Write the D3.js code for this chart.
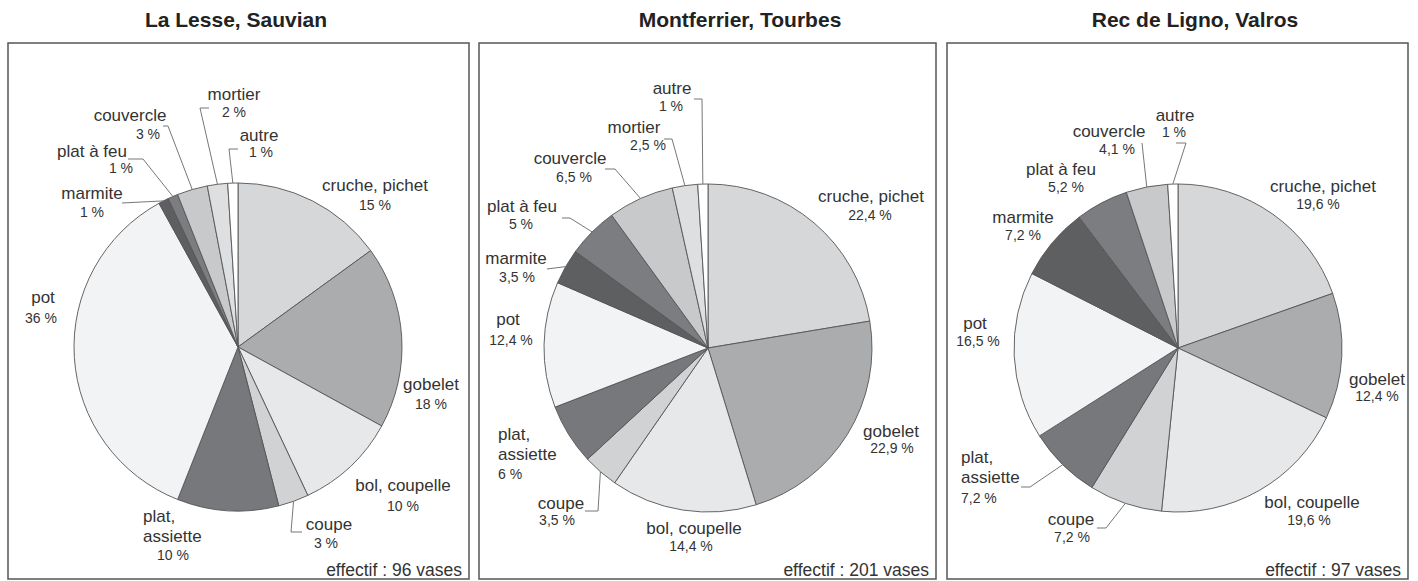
<!DOCTYPE html>
<html>
<head>
<meta charset="utf-8">
<script src="https://cdn.jsdelivr.net/npm/d3@7"></script>
<style>
  body { margin: 0; background: #fff; }
  text { font-family: "Liberation Sans", Arial, sans-serif; fill: #333; }
</style>
</head>
<body>
<script>
// categories, clockwise from 12 o'clock
var categories = ["cruche, pichet", "gobelet", "bol, coupelle", "coupe", "plat, assiette",
  "pot", "marmite", "plat à feu", "couvercle", "mortier", "autre"];

var sites = ["La Lesse, Sauvian", "Montferrier, Tourbes", "Rec de Ligno, Valros"];
var counts = [96, 201, 97];

var lesseValues       = [15, 18, 10, 3, 10, 36, 1, 1, 3, 2, 1];
var montferrierValues = [22.4, 22.9, 14.4, 3.5, 6, 12.4, 3.5, 5, 6.5, 2.5, 1];
var recValues         = [19.6, 12.4, 19.6, 7.2, 7.2, 16.5, 7.2, 5.2, 4.1, 0, 1];

var allValues = [lesseValues, montferrierValues, recValues];

var shades = ["#d6d7d9", "#abacae", "#e7e8ea", "#d1d2d4", "#77787b", "#f2f3f4",
  "#5e5f61", "#7c7d80", "#c8c9cb", "#dedfe1", "#ffffff"];

// layout: boxes, pie centres, titles
var boxes = [[8, 43, 461, 536], [479, 43, 457, 536], [947, 43, 461, 536]];
var centers = [[238, 347], [708, 348], [1178, 348]];
var titleX = [236, 740, 1195];
var radius = 164;

// label placement relative to pie centre: n = name baseline, p = pct baseline,
// a = anchor, l = leader points (from slice edge to ... to end)
var labelLayout = [
  [
    {n: [137, -156], p: [137, -137]},
    {n: [193, 43], p: [193, 62]},
    {n: [165, 144], p: [165, 164]},
    {n: [91, 183], p: [88, 201], l: [[53, 185], [64, 185]]},
    {n: [-95, 175], p: [-81, 213], a: "start"},
    {n: [-195, -44], p: [-197, -24]},
    {n: [-146, -148], p: [-146, -130], l: [[-116, -144]]},
    {n: [-146, -190], p: [-117, -174], l: [[-95, -188], [-110, -188]]},
    {n: [-108, -226], p: [-90, -208], l: [[-70, -221], [-75, -221]]},
    {n: [-4, -247], p: [-4, -230], l: [[-38, -239], [-29, -239]]},
    {n: [21, -206], p: [23, -190], l: [[-9, -198], [0, -198]]}
  ],
  [
    {n: [163, -146], p: [162, -128]},
    {n: [183, 89], p: [184, 105]},
    {n: [-14, 186], p: [-17, 203]},
    {n: [-147, 161], p: [-151, 177], l: [[-110, 163], [-123, 163]]},
    {n: [-210, 92], p: [-210, 131], a: "start"},
    {n: [-200, -23], p: [-197, -3]},
    {n: [-192, -84], p: [-191, -66], l: [[-161, -79]]},
    {n: [-186, -136], p: [-187, -119], l: [[-138, -130], [-146, -130]]},
    {n: [-138, -184], p: [-134, -166], l: [[-93, -179], [-103, -179]]},
    {n: [-74, -215], p: [-60, -198], l: [[-36, -209], [-44, -209]]},
    {n: [-36, -254], p: [-37, -237], l: [[-6, -249], [-14, -249]]}
  ],
  [
    {n: [145, -156], p: [140, -139]},
    {n: [199, 37], p: [199, 53]},
    {n: [134, 160], p: [131, 177]},
    {n: [-107, 177], p: [-106, 194], l: [[-72, 180], [-81, 180]]},
    {n: [-217, 115], p: [-217, 155], a: "start", l: [[-148, 139], [-157, 139]]},
    {n: [-203, -19], p: [-200, -2]},
    {n: [-155, -125], p: [-155, -108]},
    {n: [-117, -173], p: [-112, -156]},
    {n: [-69, -211], p: [-61, -194], l: [[-36, -205]]},
    null,
    {n: [-3, -227], p: [-4, -211], l: [[8, -205], [-2, -205]]}
  ]
];

var svg = d3.select("body").append("svg")
  .attr("width", 1418)
  .attr("height", 581);

var pie = d3.pie().sort(null).value(function(d){ return d; });
var arc = d3.arc().innerRadius(0).outerRadius(radius);

function pctText(v) {
  return String(v).replace(".", ",") + " %";
}

allValues.forEach(function(values, k) {
  var box = boxes[k];

  svg.append("text")
    .attr("x", titleX[k])
    .attr("y", 27)
    .attr("text-anchor", "middle")
    .style("font-size", "21px")
    .style("font-weight", "bold")
    .style("fill", "#222")
    .text(sites[k]);

  svg.append("rect")
    .attr("x", box[0]).attr("y", box[1])
    .attr("width", box[2]).attr("height", box[3])
    .attr("fill", "none")
    .attr("stroke", "#555")
    .attr("stroke-width", 1.5);

  var g = svg.append("g")
    .attr("transform", "translate(" + centers[k][0] + "," + centers[k][1] + ")");

  var arcs = pie(values).filter(function(d){ return d.value > 0; });

  g.selectAll("path.slice")
    .data(arcs)
    .enter()
    .append("path")
    .attr("class", "slice")
    .attr("d", arc)
    .attr("fill", function(d){ return shades[d.index]; })
    .attr("stroke", "#555")
    .attr("stroke-width", 0.9)
    .attr("stroke-linejoin", "round");

  // leader lines
  arcs.forEach(function(d) {
    var lay = labelLayout[k][d.index];
    if (!lay || !lay.l) return;
    var mid = (d.startAngle + d.endAngle) / 2;
    var pts = [[radius * Math.sin(mid), -radius * Math.cos(mid)]].concat(lay.l);
    g.append("path")
      .attr("d", d3.line()(pts))
      .attr("fill", "none")
      .attr("stroke", "#777")
      .attr("stroke-width", 1);
  });

  // labels
  arcs.forEach(function(d) {
    var lay = labelLayout[k][d.index];
    if (!lay) return;
    var anchor = lay.a || "middle";
    var name = categories[d.index];
    var lines = name === "plat, assiette" ? ["plat,", "assiette"] : [name];
    lines.forEach(function(line, i) {
      g.append("text")
        .attr("x", lay.n[0])
        .attr("y", lay.n[1] + i * 20)
        .attr("text-anchor", anchor)
        .style("font-size", "17px")
        .text(line);
    });
    g.append("text")
      .attr("x", lay.p[0])
      .attr("y", lay.p[1])
      .attr("text-anchor", anchor)
      .style("font-size", "14px")
      .text(pctText(d.value));
  });

  svg.append("text")
    .attr("x", box[0] + box[2] - 7)
    .attr("y", 576)
    .attr("text-anchor", "end")
    .style("font-size", "17.5px")
    .text("effectif : " + counts[k] + " vases");
});
</script>
</body>
</html>
